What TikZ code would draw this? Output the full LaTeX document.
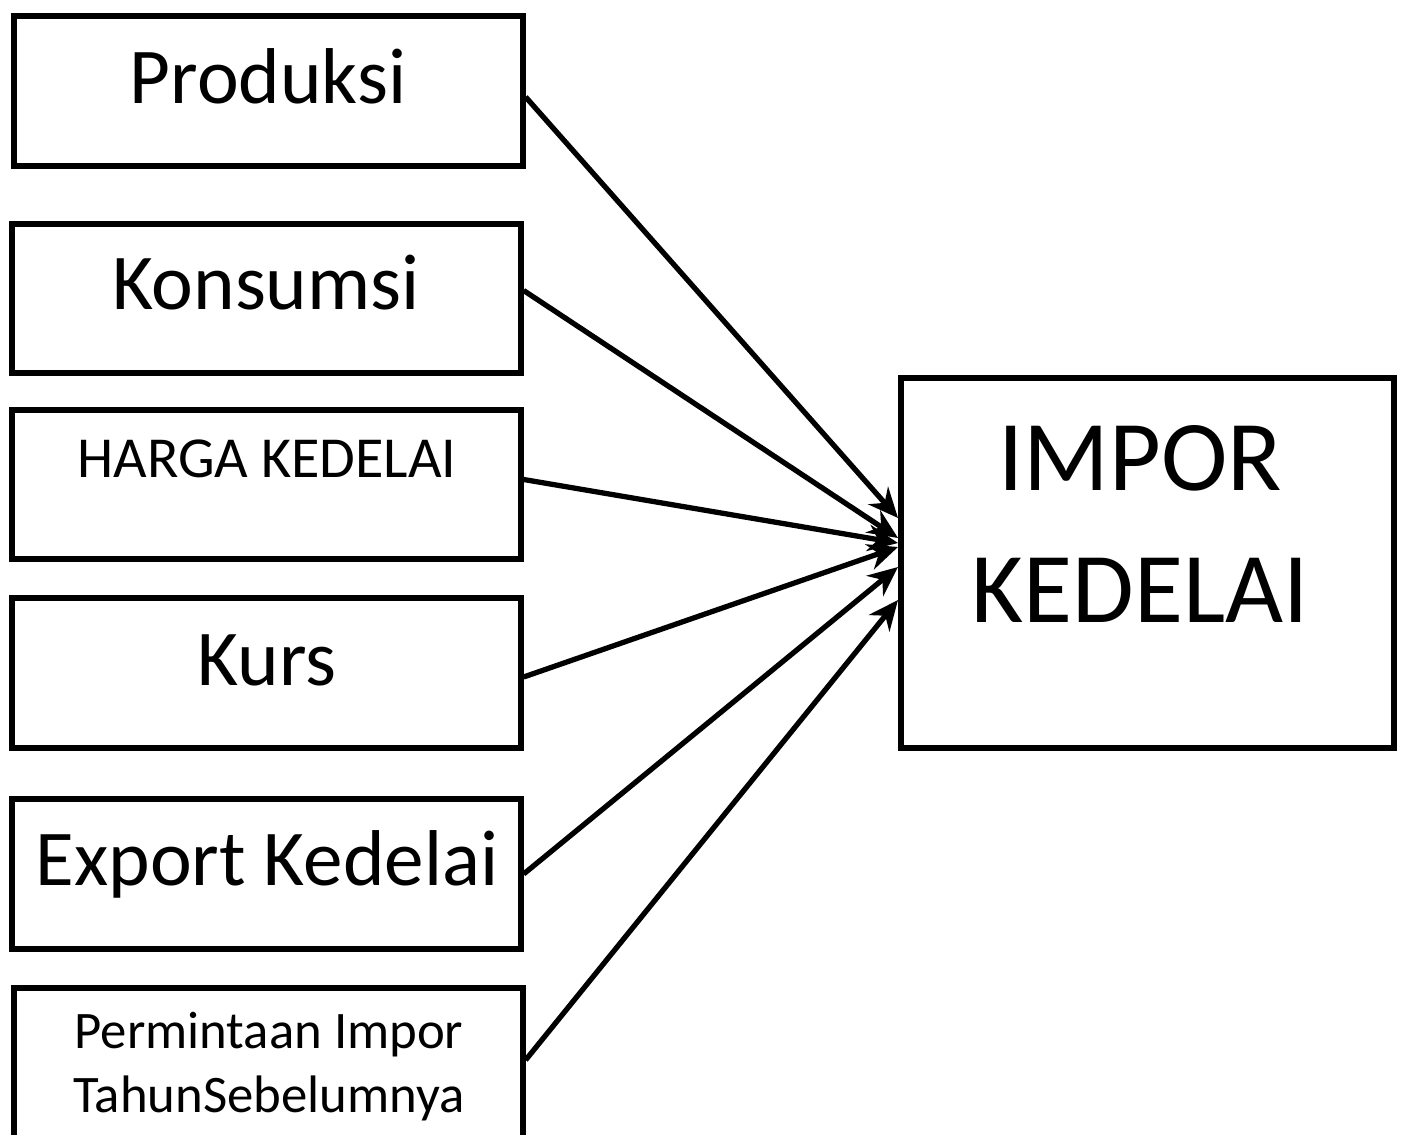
\documentclass[tikz,border=0pt]{standalone}
\usepackage{fontspec}
\setmainfont{Carlito}
\usetikzlibrary{arrows.meta,positioning}

\tikzset{
  varbox/.style={draw, line width=1.7pt, minimum width=5.08cm, minimum height=1.49cm, inner sep=0pt},
  impbox/.style={draw, line width=1.7pt, minimum width=4.92cm, minimum height=3.69cm, inner sep=0pt},
  boxtext/.style={anchor=base, inner sep=0pt, font=\fontsize{22.5}{27}\selectfont},
  link/.style={-{Stealth[length=8.5pt,width=7.5pt]}, line width=1.5pt}
}

\begin{document}
\begin{tikzpicture}[x=0.01cm,y=-0.01cm]
	\useasboundingbox (0,0) rectangle (1404,1134);
	% variable boxes
	\node[varbox] (prod) at (268.5,91) {};
	\node[varbox] (kons) at (266.5,298.5) {};
	\node[varbox] (harga) at (266.5,484.5) {};
	\node[varbox] (kurs) at (266.5,673) {};
	\node[varbox] (ekspor) at (266.5,874) {};
	\node[varbox] (perm) at (268.5,1063) {};
	\node[impbox] (impor) at (1147.5,563) {};
	
	\node[boxtext] (tprod) at (268,104) {Produksi};
	\node[boxtext] (tkons) at (266,310) {Konsumsi};
	\node[boxtext, font=\fontsize{16.5}{20}\selectfont] (tharga) at (267,478) {HARGA KEDELAI};
	\node[boxtext] (tkurs) at (267,685) {Kurs};
	\node[boxtext] (tekspor) at (267,885) {Export Kedelai};
	\node[boxtext, align=center, font=\fontsize{15}{18.2}\selectfont] (tperm) at (269,1112) {Permintaan Impor\\TahunSebelumnya};
	\node[boxtext, align=center, font=\fontsize{28.5}{37.5}\selectfont] (timpor) at (1140,622) {IMPOR\\KEDELAI};
	
	\coordinate (t1) at (898,518);
	\coordinate (t2) at (898,538);
	\coordinate (t3) at (898,543);
	\coordinate (t4) at (898,547);
	\coordinate (t5) at (898,567);
	\coordinate (t6) at (898,600);
	
	\draw[link] ([yshift=-6*0.01cm]prod.east) -- (t1);
	\draw[link] ([yshift=8*0.01cm]kons.east) -- (t2);
	\draw[link] ([yshift=5*0.01cm]harga.east) -- (t3);
	\draw[link] ([yshift=-4*0.01cm]kurs.east) -- (t4);
	\draw[link] (ekspor.east) -- (t5);
	\draw[link] ([yshift=3*0.01cm]perm.east) -- (t6);
\end{tikzpicture}
\end{document}
